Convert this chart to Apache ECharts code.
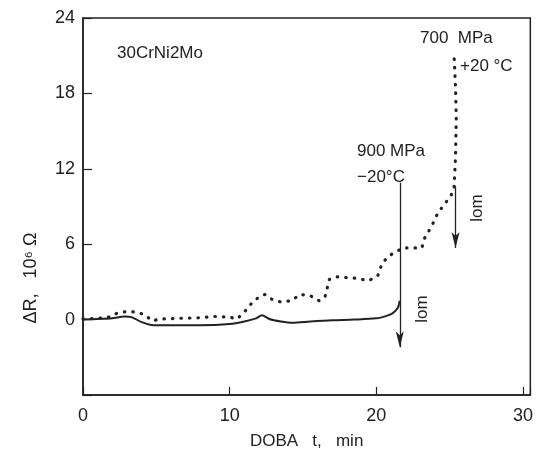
<!DOCTYPE html>
<html>
<head>
<meta charset="utf-8">
<script src="https://cdn.jsdelivr.net/npm/echarts@6/dist/echarts.min.js"></script>
<style>
  html, body { margin: 0; padding: 0; background: #fff; }
  #chart { width: 536px; height: 459px; }
</style>
</head>
<body>
<div id="chart"></div>
<script>
// 900 MPa, -20 °C  (solid line)  [t min, dR]
const solid900 = [
  [0, 0], [1, 0.05], [2, 0.1], [2.8, 0.25], [3.3, 0.2], [4, -0.2], [4.8, -0.45],
  [6, -0.45], [8, -0.45], [10, -0.35], [11, -0.15], [11.8, 0.1], [12.2, 0.35],
  [12.7, 0.05], [13.5, -0.15], [14.3, -0.25], [15.5, -0.15], [17, -0.05],
  [18.5, 0.0], [20, 0.1], [20.7, 0.3], [21.1, 0.5], [21.45, 0.9], [21.6, 1.5]
];

// 700 MPa, +20 °C  (dotted line)
const dotted700 = [
  [0, 0.05], [1, 0.1], [1.8, 0.2], [2.3, 0.5], [3, 0.65], [3.6, 0.6], [4.2, 0.4],
  [4.7, -0.1], [5.3, 0.05], [6.5, 0.1], [8, 0.15], [9, 0.25], [10, 0.2],
  [10.5, 0.05], [11, 0.6], [11.5, 1.3], [12, 1.8], [12.4, 2.0], [12.9, 1.6],
  [13.5, 1.4], [14.2, 1.5], [14.8, 2.0], [15.5, 1.9], [16.1, 1.5], [16.5, 1.8],
  [16.8, 3.2], [17.3, 3.4], [18.5, 3.3], [19.5, 3.1], [20.1, 3.5], [20.4, 4.5],
  [20.9, 5.1], [21.8, 5.7], [23.1, 5.7], [23.3, 6.5], [23.8, 7.5], [24.2, 8.5],
  [24.6, 9.1], [25.1, 9.9], [25.3, 10.5], [25.4, 13], [25.45, 16],
  [25.4, 18.5], [25.3, 21]
];

// break arrows ("lom"): [t, from, to]
const break900 = [21.6, 10.9, -2.2];
const break700 = [25.4, 10.6, 5.7];

const xTicks = [0, 10, 20, 30];
const yTicks = [0, 6, 12, 18, 24];

const chart = echarts.init(document.getElementById('chart'));
const ink = '#222';
const font = 'Liberation Sans, Arial, sans-serif';

const option = {
  animation: false,
  grid: {
    left: 83, right: 5, top: 18, bottom: 64,
    show: true, borderColor: ink, borderWidth: 1.5
  },
  xAxis: {
    type: 'value', min: 0, max: 30.5, interval: 10,
    name: 'DOBA   t,   min', nameLocation: 'middle', nameGap: 38,
    nameTextStyle: { color: ink, fontSize: 17, fontFamily: font },
    axisLine: { onZero: false, lineStyle: { color: ink, width: 1.5 } },
    axisTick: { inside: true, length: 8, lineStyle: { color: ink, width: 1.2 } },
    axisLabel: {
      color: ink, fontSize: 18, fontFamily: font, margin: 12,
      formatter: v => (xTicks.indexOf(v) >= 0 ? String(v) : '')
    },
    splitLine: { show: false }
  },
  yAxis: {
    type: 'value', min: -6, max: 24, interval: 6,
    axisLine: { onZero: false, lineStyle: { color: ink, width: 1.5 } },
    axisTick: { inside: true, length: 9, lineStyle: { color: ink, width: 1.2 } },
    axisLabel: {
      color: ink, fontSize: 18, fontFamily: font, margin: 8,
      formatter: v => (yTicks.indexOf(v) >= 0 ? String(v) : '')
    },
    splitLine: { show: false }
  },
  series: [
    {
      type: 'line', data: solid900, showSymbol: false, smooth: 0.3,
      lineStyle: { color: ink, width: 2 },
      markLine: {
        silent: true, symbol: ['none', 'arrow'], symbolSize: [6, 16],
        lineStyle: { color: ink, width: 1.3, type: 'solid' },
        label: { show: false },
        data: [
          [{ coord: [break900[0], break900[1]] }, { coord: [break900[0], break900[2]] }],
          [{ coord: [break700[0], break700[1]] }, { coord: [break700[0], break700[2]] }]
        ]
      }
    },
    {
      type: 'line', data: dotted700, showSymbol: false,
      lineStyle: { color: ink, width: 3.2, type: [0.5, 8], cap: 'round' }
    }
  ],
  graphic: [
    { type: 'text', x: 31, y: 278, rotation: Math.PI / 2,
      style: { text: 'ΔR,   10⁶ Ω', fill: ink, font: '18px ' + font, align: 'center', verticalAlign: 'middle' } },
    { type: 'text', left: 117, top: 45, style: { text: '30CrNi2Mo', fill: ink, font: '17px ' + font } },
    { type: 'text', left: 420, top: 30, style: { text: '700  MPa', fill: ink, font: '17px ' + font } },
    { type: 'text', left: 460, top: 58, style: { text: '+20 °C', fill: ink, font: '17px ' + font } },
    { type: 'text', left: 357, top: 143, style: { text: '900 MPa', fill: ink, font: '17px ' + font } },
    { type: 'text', left: 357, top: 169, style: { text: '−20°C', fill: ink, font: '17px ' + font } },
    { type: 'text', x: 422, y: 309, rotation: Math.PI / 2,
      style: { text: 'lom', fill: ink, font: '17px ' + font, align: 'center', verticalAlign: 'middle' } },
    { type: 'text', x: 477, y: 208, rotation: Math.PI / 2,
      style: { text: 'lom', fill: ink, font: '17px ' + font, align: 'center', verticalAlign: 'middle' } }
  ]
};

chart.setOption(option);
</script>
</body>
</html>
